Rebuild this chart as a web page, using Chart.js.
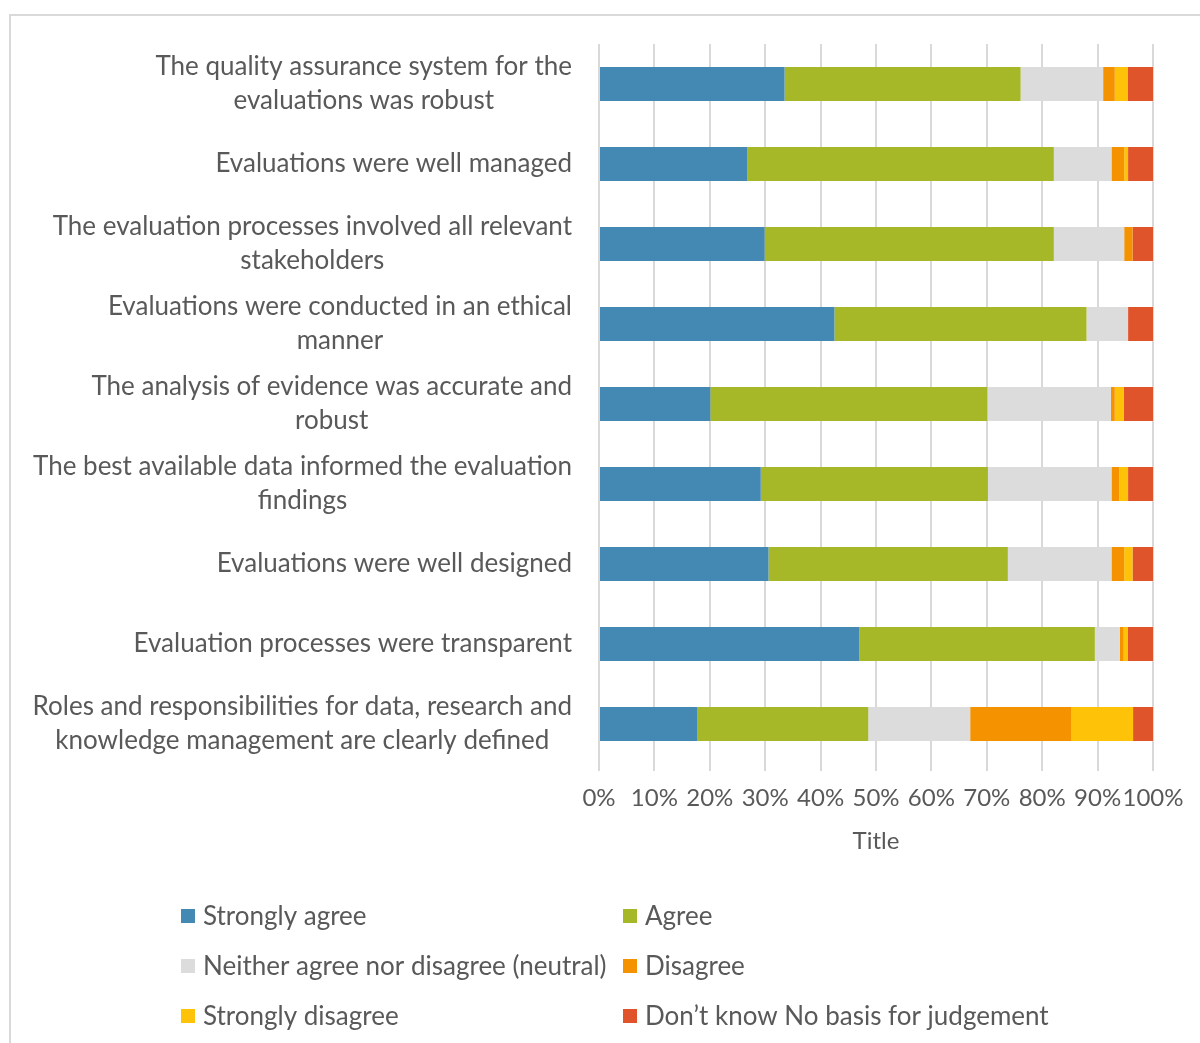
<!DOCTYPE html>
<html>
<head>
<meta charset="utf-8">
<script src="https://cdn.jsdelivr.net/npm/chart.js@4/dist/chart.umd.min.js"></script>
<style>
  html, body { margin: 0; padding: 0; background: #fff; overflow: hidden; }
  #wrap { width: 1200px; height: 1043px; }
</style>
</head>
<body>
<div id="wrap"><canvas id="myChart" width="1200" height="1043"></canvas></div>
<script>
// Daten (in Prozent)
const labels = [
  ["The quality assurance system for the", "evaluations was robust"],
  ["Evaluations were well managed"],
  ["The evaluation processes involved all relevant", "stakeholders"],
  ["Evaluations were conducted in an ethical", "manner"],
  ["The analysis of evidence was accurate and", "robust"],
  ["The best available data informed the evaluation", "findings"],
  ["Evaluations were well designed"],
  ["Evaluation processes were transparent"],
  ["Roles and responsibilities for data, research and", "knowledge management are clearly defined"]
];

const stronglyAgree    = [33.5, 26.8, 29.9, 42.5, 20.1, 29.2, 30.6, 47.0, 17.7];
const agree            = [42.6, 55.3, 52.2, 45.5, 50.0, 41.0, 43.2, 42.5, 30.9];
const neutral          = [14.9, 10.4, 12.7,  7.5, 22.3, 22.3, 18.7,  4.5, 18.4];
const disagree         = [ 2.1,  2.3,  1.5,  0,    0.7,  1.4,  2.3,  0.7, 18.3];
const stronglyDisagree = [ 2.3,  0.7,  0,    0,    1.6,  1.6,  1.5,  0.7, 11.1];
const dontKnow         = [ 4.6,  4.5,  3.7,  4.5,  5.3,  4.5,  3.7,  4.6,  3.6];

const xTicks = [0, 10, 20, 30, 40, 50, 60, 70, 80, 90, 100];

const textColor = '#595959';
const fontFamily = 'Lato, "Open Sans", sans-serif';
Chart.defaults.font.family = fontFamily;
Chart.defaults.color = textColor;

// Rahmen + Beschriftungen der Kategorien + Legende
const extras = {
  id: 'extras',
  beforeDraw(chart) {
    const ctx = chart.ctx;
    ctx.save();
    ctx.strokeStyle = '#d9d9d9';
    ctx.lineWidth = 2;
    ctx.strokeRect(10, 15, 1300, 1200);
    ctx.restore();
  },
  afterDraw(chart) {
    const ctx = chart.ctx;
    const yScale = chart.scales.y;
    ctx.save();
    ctx.font = '26px ' + fontFamily;
    ctx.fillStyle = textColor;
    ctx.textBaseline = 'middle';
    ctx.textAlign = 'center';
    const right = chart.chartArea.left - 27;
    chart.data.labels.forEach((lines, i) => {
      const cy = yScale.getPixelForTick(i);
      const w = Math.max(...lines.map(l => ctx.measureText(l).width));
      const cx = right - w / 2;
      const lh = 34;
      const startY = cy - (lines.length - 1) * lh / 2;
      lines.forEach((l, j) => ctx.fillText(l, cx, startY + j * lh));
    });

    // Legende in zwei Spalten
    const cols = [181, 623];
    const rows = [916, 966, 1016];
    ctx.textAlign = 'left';
    chart.data.datasets.forEach((ds, i) => {
      const x = cols[i % 2];
      const y = rows[Math.floor(i / 2)];
      ctx.fillStyle = ds.backgroundColor;
      ctx.fillRect(x, y - 7, 14, 14);
      ctx.fillStyle = textColor;
      ctx.fillText(ds.label, x + 22, y + 1);
    });
    ctx.restore();
  }
};

const data = {
  labels: labels,
  datasets: [
    { label: 'Strongly agree', data: stronglyAgree, backgroundColor: '#4389B4' },
    { label: 'Agree', data: agree, backgroundColor: '#A6B728' },
    { label: 'Neither agree nor disagree (neutral)', data: neutral, backgroundColor: '#DCDCDC' },
    { label: 'Disagree', data: disagree, backgroundColor: '#F59200' },
    { label: 'Strongly disagree', data: stronglyDisagree, backgroundColor: '#FEC309' },
    { label: 'Don\u2019t know No basis for judgement', data: dontKnow, backgroundColor: '#E0542C' }
  ]
};

const config = {
  type: 'bar',
  data: data,
  options: {
    indexAxis: 'y',
    responsive: false,
    animation: false,
    layout: { padding: { top: 44, right: 47, bottom: 179, left: 0 } },
    datasets: {
      bar: { categoryPercentage: 0.5, barPercentage: 0.85, borderWidth: 0 }
    },
    plugins: {
      legend: { display: false },
      tooltip: { enabled: false }
    },
    scales: {
      x: {
        stacked: true,
        min: 0,
        max: 100,
        afterBuildTicks: scale => { scale.ticks = xTicks.map(v => ({ value: v })); },
        afterFit: scale => { scale.height = 100; },
        ticks: {
          callback: v => v + '%',
          font: { size: 24 },
          color: textColor,
          padding: 13,
          maxRotation: 0,
          autoSkip: false
        },
        grid: { color: '#d9d9d9', lineWidth: 2, tickLength: 7, drawTicks: true },
        border: { display: false },
        title: {
          display: true,
          text: 'Title',
          font: { size: 24 },
          color: textColor,
          padding: { top: 0, bottom: 8 }
        }
      },
      y: {
        stacked: true,
        afterFit: scale => { scale.width = 599; },
        ticks: { display: false },
        grid: { display: false },
        border: { display: false }
      }
    }
  },
  plugins: [extras]
};

const chart = new Chart(document.querySelector('#myChart'), config);
</script>
</body>
</html>
